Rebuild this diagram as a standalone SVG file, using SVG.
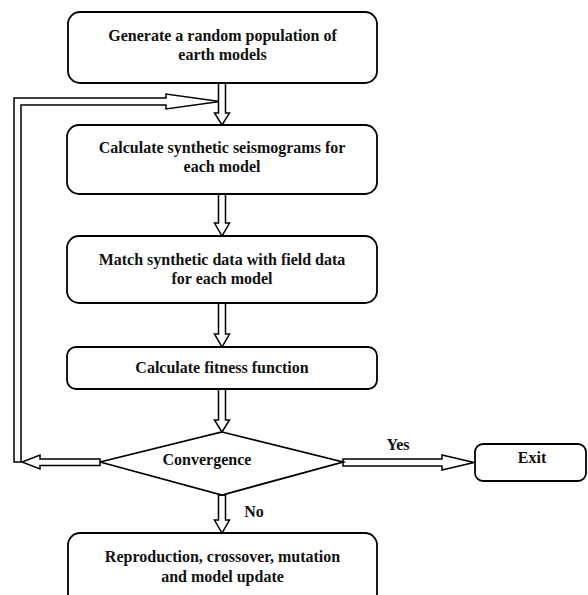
<svg xmlns="http://www.w3.org/2000/svg" width="588" height="595" viewBox="0 0 588 595">
<style>
.box{fill:#fff;stroke:#000;stroke-width:1.8}
.arr{fill:#fff;stroke:#000;stroke-width:1.5;stroke-linejoin:miter}
text{font-family:"Liberation Serif","Times New Roman",serif;font-weight:bold;font-size:16px;fill:#111;text-anchor:middle}
</style>
<rect width="588" height="595" fill="#fff"/>
<g id="connectors">
<polygon class="arr" points="14,462 14,98 166,98 166,94 220,101.5 166,109 166,105 21,105 21,462"/>
<polygon class="arr" points="218.5,83 225.5,83 225.5,113 229.5,113 222,125 214.5,113 218.5,113"/>
<polygon class="arr" points="218.5,194 225.5,194 225.5,223 229.5,223 222,236 214.5,223 218.5,223"/>
<polygon class="arr" points="218.5,303 225.5,303 225.5,334 229.5,334 222,347 214.5,334 218.5,334"/>
<polygon class="arr" points="218.5,389 225.5,389 225.5,420 229.5,420 222,432 214.5,420 218.5,420"/>
<polygon class="arr" points="218.5,495 225.5,495 225.5,520 229.5,520 222,533 214.5,520 218.5,520"/>
<polygon class="arr" points="100,459 40,459 40,455 22,462 40,469 40,465.5 100,465.5"/>
<polygon class="arr" points="343,459 442,459 442,455 474,462.5 442,470 442,466 343,466"/>
<text x="398" y="450">Yes</text>
<text x="254" y="517">No</text>
</g>
<g id="n1">
<rect class="box" x="68" y="12" width="309" height="71" rx="12"/>
<text x="222.5" y="41">Generate a random population of</text>
<text x="222.5" y="60">earth models</text>
</g>
<g id="n2">
<rect class="box" x="67" y="125" width="310" height="69" rx="12"/>
<text x="222" y="153">Calculate synthetic seismograms for</text>
<text x="222" y="172">each model</text>
</g>
<g id="n3">
<rect class="box" x="67" y="236" width="310" height="67" rx="12"/>
<text x="222" y="265">Match synthetic data with field data</text>
<text x="222" y="284">for each model</text>
</g>
<g id="n4">
<rect class="box" x="67" y="347" width="310" height="42" rx="9"/>
<text x="222" y="373">Calculate fitness function</text>
</g>
<g id="n5">
<polygon class="box" points="222,432 343,462 222,495 100,462"/>
<text x="207" y="465">Convergence</text>
</g>
<g id="n6">
<rect class="box" x="475" y="444" width="111" height="37" rx="8"/>
<text x="532" y="463">Exit</text>
</g>
<g id="n7">
<rect class="box" x="68" y="533" width="309" height="80" rx="12"/>
<text x="222.5" y="562">Reproduction, crossover, mutation</text>
<text x="222.5" y="582">and model update</text>
</g>
</svg>
